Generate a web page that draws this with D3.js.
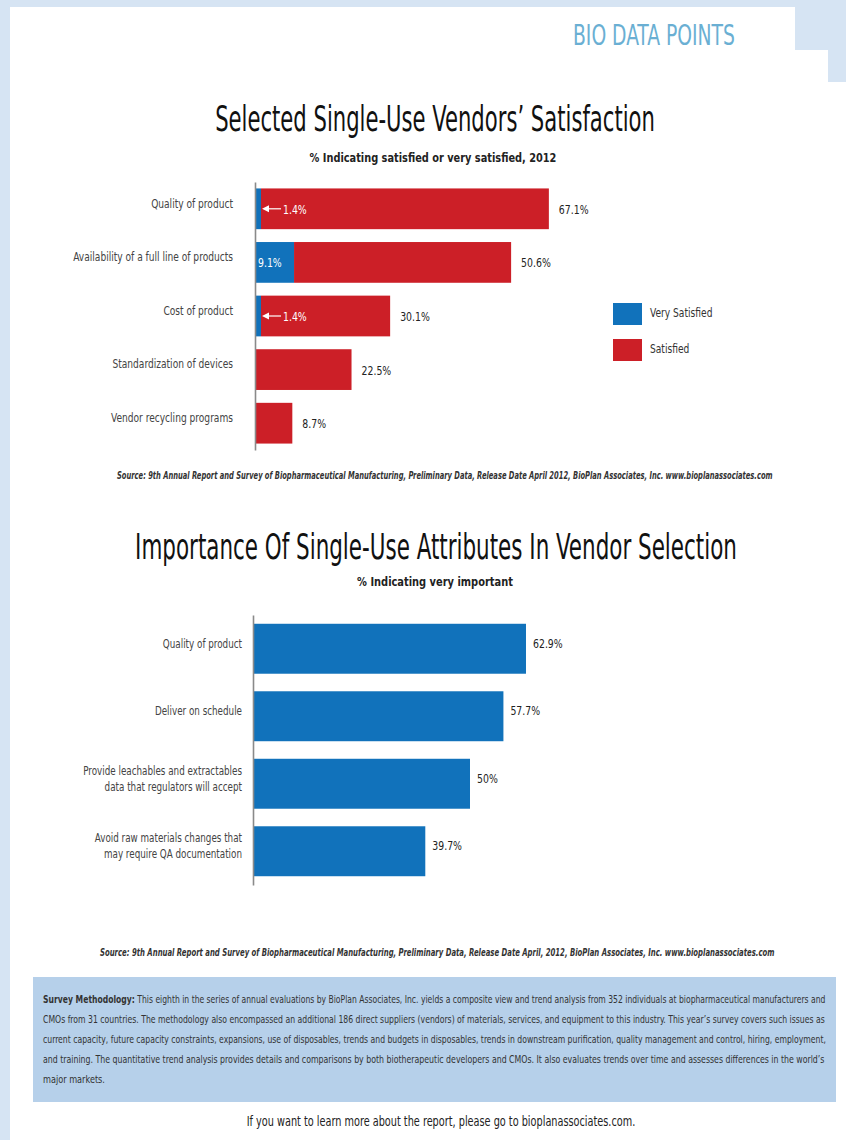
<!DOCTYPE html>
<html>
<head>
<meta charset="utf-8">
<script src="https://cdn.jsdelivr.net/npm/d3@7/dist/d3.min.js"></script>
<style>
  html, body { margin: 0; padding: 0; background: #ffffff; }
  svg { display: block; }
  text { font-family: 'DejaVu Sans Condensed', 'DejaVu Sans', sans-serif; }
</style>
</head>
<body>
<svg id="chart" width="846" height="1140"></svg>
<script>
// ---------- DATA ----------
const headerLabel = "BIO DATA POINTS";

const chart1Title = "Selected Single-Use Vendors\u2019 Satisfaction";
const chart1Subtitle = "% Indicating satisfied or very satisfied, 2012";
const satCategories = [
  "Quality of product",
  "Availability of a full line of products",
  "Cost of product",
  "Standardization of devices",
  "Vendor recycling programs"
];
const verySatisfied = [1.4, 9.1, 1.4, 0, 0];
const satisfied = [67.1, 50.6, 30.1, 22.5, 8.7];
const seriesNames = ["Very Satisfied", "Satisfied"];
const source1 = "Source: 9th Annual Report and Survey of Biopharmaceutical Manufacturing, Preliminary Data, Release Date April 2012, BioPlan Associates, Inc. www.bioplanassociates.com";

const chart2Title = "Importance Of Single-Use Attributes In Vendor Selection";
const chart2Subtitle = "% Indicating very important";
const impCategories = [
  ["Quality of product"],
  ["Deliver on schedule"],
  ["Provide leachables and extractables", "data that regulators will accept"],
  ["Avoid raw materials changes that", "may require QA documentation"]
];
const veryImportant = [62.9, 57.7, 50, 39.7];
const source2 = "Source: 9th Annual Report and Survey of Biopharmaceutical Manufacturing, Preliminary Data, Release Date April, 2012, BioPlan Associates, Inc. www.bioplanassociates.com";

const methodologyLead = "Survey Methodology:";
const methodologyLines = [
  " This eighth in the series of annual evaluations by BioPlan Associates, Inc. yields a composite view and trend analysis from 352 individuals at biopharmaceutical manufacturers and",
  "CMOs from 31 countries. The methodology also encompassed an additional 186 direct suppliers (vendors) of materials, services, and equipment to this industry. This year\u2019s survey covers such issues as",
  "current capacity, future capacity constraints, expansions, use of disposables, trends and budgets in disposables, trends in downstream purification, quality management and control, hiring, employment,",
  "and training. The quantitative trend analysis provides details and comparisons by both biotherapeutic developers and CMOs. It also evaluates trends over time and assesses differences in the world\u2019s",
  "major markets."
];
const footerText = "If you want to learn more about the report, please go to bioplanassociates.com.";

// ---------- STYLE ----------
const BLUE = "#1172bb";
const RED = "#cc1f27";
const PALE = "#d6e4f3";
const BOX = "#b6d0ea";
const NARROW = 0.8;

const svg = d3.select("#chart");

// horizontally condense a text element around its anchor point
function squeeze(sel, sx) {
  sel.each(function() {
    const t = d3.select(this);
    const x = +t.attr("x") || 0, y = +t.attr("y") || 0;
    t.attr("x", null).attr("y", null)
      .attr("transform", `translate(${x},${y}) scale(${sx},1)`);
  });
  return sel;
}
// condense a single text element to an exact width
function fitW(sel, w) {
  const nat = sel.node().getComputedTextLength();
  return squeeze(sel, w / nat);
}
const fmt = v => (Number.isInteger(v) ? v : v.toFixed(1)) + "%";

// ---------- PAGE FRAME ----------
svg.append("rect").attr("x", 0).attr("y", 0).attr("width", 846).attr("height", 7).attr("fill", PALE);
svg.append("rect").attr("x", 0).attr("y", 0).attr("width", 10).attr("height", 1140).attr("fill", PALE);
svg.append("rect").attr("x", 795).attr("y", 0).attr("width", 51).attr("height", 50).attr("fill", PALE);
svg.append("rect").attr("x", 828).attr("y", 0).attr("width", 18).attr("height", 82).attr("fill", PALE);

fitW(svg.append("text").attr("x", 573).attr("y", 45)
  .attr("font-size", 28).attr("fill", "#6aafd3").text(headerLabel), 162);

// ---------- CHART 1 ----------
fitW(svg.append("text").attr("x", 435).attr("y", 131).attr("text-anchor", "middle")
  .attr("font-size", 35).attr("fill", "#111").text(chart1Title), 440);
fitW(svg.append("text").attr("x", 433).attr("y", 162).attr("text-anchor", "middle")
  .attr("font-size", 13).attr("font-weight", "bold").attr("fill", "#222").text(chart1Subtitle), 247);

const y1 = d3.scaleBand().domain(satCategories).range([182, 450]).paddingInner(0.24).paddingOuter(0.12);
const x1 = d3.scaleLinear().domain([0, 100]).range([255, 684]);

const rows1 = satCategories.map((c, i) => ({ cat: c, "Very Satisfied": verySatisfied[i], "Satisfied": satisfied[i] }));
const stack1 = d3.stack().keys(seriesNames)(rows1);
const color1 = d3.scaleOrdinal().domain(seriesNames).range([BLUE, RED]);

const g1 = svg.append("g");
g1.selectAll("g.series").data(stack1).join("g")
  .attr("fill", d => color1(d.key))
  .selectAll("rect").data(d => d.filter(p => p[1] - p[0] > 0)).join("rect")
  .attr("x", d => x1(d[0]))
  .attr("y", d => y1(d.data.cat))
  .attr("width", d => x1(d[1]) - x1(d[0]))
  .attr("height", y1.bandwidth());

// axis with category labels
const ax1 = svg.append("g").attr("transform", `translate(${x1(0)},0)`)
  .call(d3.axisLeft(y1).tickSize(0).tickPadding(22));
ax1.select(".domain").attr("stroke", "#8a8a8a").attr("stroke-width", 1.6);
ax1.selectAll(".tick text")
  .attr("font-size", 13).attr("fill", "#444")
  .attr("font-family", "'DejaVu Sans Condensed', 'DejaVu Sans', sans-serif")
  .attr("dy", "-0.1em");
// condense all category labels by the same factor so the longest matches its width
(function() {
  let maxW = 0;
  ax1.selectAll(".tick text").each(function() { maxW = Math.max(maxW, this.getComputedTextLength()); });
  squeeze(ax1.selectAll(".tick text"), 160 / maxW);
})();

// satisfied totals labels
squeeze(g1.selectAll("text.total").data(rows1).join("text")
  .attr("class", "total")
  .attr("x", d => x1(d["Very Satisfied"] + d["Satisfied"]) + 10)
  .attr("y", d => y1(d.cat) + y1.bandwidth() / 2 + 5)
  .attr("font-size", 13).attr("fill", "#222")
  .text(d => fmt(d["Satisfied"])), NARROW);

// very satisfied labels (inside)
rows1.forEach(d => {
  const v = d["Very Satisfied"];
  if (v <= 0) return;
  const cy = y1(d.cat) + y1.bandwidth() / 2;
  if (x1(v) - x1(0) > 20) {
    squeeze(g1.append("text").attr("x", x1(0) + 3).attr("y", cy + 5)
      .attr("font-size", 13).attr("fill", "#fff").text(fmt(v)), NARROW);
  } else {
    const ax = x1(v) + 1;
    g1.append("path").attr("d", `M${ax},${cy} l7,-3.5 v7 z`).attr("fill", "#fff");
    g1.append("line").attr("x1", ax + 6).attr("x2", ax + 19).attr("y1", cy).attr("y2", cy)
      .attr("stroke", "#fff").attr("stroke-width", 1.2);
    squeeze(g1.append("text").attr("x", ax + 21).attr("y", cy + 5)
      .attr("font-size", 13).attr("fill", "#fff").text(fmt(v)), NARROW);
  }
});

// legend
const leg = svg.append("g");
seriesNames.forEach((s, i) => {
  const ly = 303 + i * 36;
  leg.append("rect").attr("x", 613).attr("y", ly).attr("width", 29).attr("height", 22).attr("fill", color1(s));
  squeeze(leg.append("text").attr("x", 650).attr("y", ly + 14).attr("font-size", 13)
    .attr("fill", "#333").text(s), 0.78);
});

fitW(svg.append("text").attr("x", 117).attr("y", 479)
  .attr("font-size", 10).attr("font-weight", "bold").attr("font-style", "italic").attr("fill", "#333").text(source1), 656);

// ---------- CHART 2 ----------
fitW(svg.append("text").attr("x", 436).attr("y", 559).attr("text-anchor", "middle")
  .attr("font-size", 35).attr("fill", "#111").text(chart2Title), 602);
fitW(svg.append("text").attr("x", 435).attr("y", 586).attr("text-anchor", "middle")
  .attr("font-size", 13).attr("font-weight", "bold").attr("fill", "#222").text(chart2Subtitle), 156);

const impKeys = impCategories.map(l => l.join(" "));
const y2 = d3.scaleBand().domain(impKeys).range([615, 885]).paddingInner(0.26).paddingOuter(0.13);
const x2 = d3.scaleLinear().domain([0, 100]).range([253, 687]);
const rows2 = impKeys.map((k, i) => ({ key: k, lines: impCategories[i], v: veryImportant[i] }));

const g2 = svg.append("g");
g2.selectAll("rect").data(rows2).join("rect")
  .attr("x", x2(0)).attr("y", d => y2(d.key))
  .attr("width", d => x2(d.v) - x2(0)).attr("height", y2.bandwidth())
  .attr("fill", BLUE);

squeeze(g2.selectAll("text.val").data(rows2).join("text")
  .attr("class", "val")
  .attr("x", d => x2(d.v) + 7)
  .attr("y", d => y2(d.key) + y2.bandwidth() / 2 - 1)
  .attr("font-size", 13).attr("fill", "#222")
  .text(d => fmt(d.v)), NARROW);

const ax2 = svg.append("g").attr("transform", `translate(${x2(0)},0)`)
  .call(d3.axisLeft(y2).tickSize(0).tickPadding(11).tickFormat(""));
ax2.select(".domain").attr("stroke", "#8a8a8a").attr("stroke-width", 1.6);
let maxW2 = 0;
ax2.selectAll(".tick text").each(function(k) {
  const lines = rows2.find(r => r.key === k).lines;
  const t = d3.select(this).attr("font-size", 13).attr("fill", "#444")
    .attr("font-family", "'DejaVu Sans Condensed', 'DejaVu Sans', sans-serif")
    .attr("dy", null).attr("x", -11).attr("y", 0);
  const n = lines.length;
  lines.forEach((ln, i) => {
    const ts = t.append("tspan").attr("x", 0).attr("y", (i - (n - 1) / 2) * 16 - 5).attr("dy", "0.32em").text(ln);
    maxW2 = Math.max(maxW2, ts.node().getComputedTextLength());
  });
});
squeeze(ax2.selectAll(".tick text"), 159 / maxW2);

fitW(svg.append("text").attr("x", 100).attr("y", 956)
  .attr("font-size", 10).attr("font-weight", "bold").attr("font-style", "italic").attr("fill", "#333").text(source2), 675);

// ---------- METHODOLOGY BOX ----------
svg.append("rect").attr("x", 33).attr("y", 977).attr("width", 803).attr("height", 125).attr("fill", BOX);
methodologyLines.forEach((ln, i) => {
  const t = svg.append("text").attr("x", 43).attr("y", 1003 + i * 20)
    .attr("font-size", 11).attr("fill", "#333");
  if (i === 0) {
    t.append("tspan").attr("font-weight", "bold").text(methodologyLead);
  }
  t.append("tspan").text(ln);
  fitW(t, i < methodologyLines.length - 1 ? 783 : 62);
});

// ---------- FOOTER ----------
fitW(svg.append("text").attr("x", 441).attr("y", 1126).attr("text-anchor", "middle")
  .attr("font-size", 13.5).attr("fill", "#222").text(footerText), 389);
</script>
</body>
</html>
